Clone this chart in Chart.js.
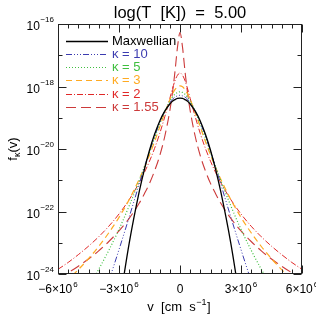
<!DOCTYPE html>
<html><head><meta charset="utf-8">
<script src="https://cdn.jsdelivr.net/npm/chart.js@4.4.1/dist/chart.umd.min.js"></script>
<style>html,body{margin:0;padding:0;background:#fff;}#wrap{width:316px;height:316px;}</style>
</head><body><div id="wrap"><canvas id="c" width="316" height="316"></canvas></div>
<script>
// velocity in units of 1e6 cm/s
const velocity = [-6,-5.5,-5,-4.5,-4,-3.5,-3,-2.5,-2,-1.75,-1.5,-1.25,-1,-0.75,-0.5,-0.375,-0.25,-0.125,0,0.125,0.25,0.375,0.5,0.75,1,1.25,1.5,1.75,2,2.5,3,3.5,4,4.5,5,5.5,6];
// log10 f(v)
const logMaxwellian = [null,null,null,null,null,null,-25.07,-23.02,-21.35,-20.65,-20.04,-19.53,-19.11,-18.79,-18.56,-18.47,-18.42,-18.38,-18.37,-18.38,-18.42,-18.47,-18.56,-18.79,-19.11,-19.53,-20.04,-20.65,-21.35,-23.02,-25.07,null,null,null,null,null,null];
const logKappa10 = [null,null,null,null,-25.17,-24.22,-23.22,-22.18,-21.11,-20.58,-20.07,-19.59,-19.16,-18.79,-18.52,-18.41,-18.34,-18.30,-18.28,-18.30,-18.34,-18.41,-18.52,-18.79,-19.16,-19.59,-20.07,-20.58,-21.11,-22.18,-23.22,-24.22,-25.17,null,null,null,null];
const logKappa5 = [null,null,null,-24.40,-23.85,-23.24,-22.57,-21.82,-21.00,-20.56,-20.11,-19.65,-19.21,-18.80,-18.47,-18.34,-18.25,-18.19,-18.17,-18.19,-18.25,-18.34,-18.47,-18.80,-19.21,-19.65,-20.11,-20.56,-21.00,-21.82,-22.57,-23.24,-23.85,-24.40,null,null,null];
const logKappa3 = [-24.48,-24.18,-23.86,-23.51,-23.12,-22.68,-22.19,-21.62,-20.96,-20.59,-20.19,-19.76,-19.30,-18.84,-18.42,-18.24,-18.10,-18.01,-17.98,-18.01,-18.10,-18.24,-18.42,-18.84,-19.30,-19.76,-20.19,-20.59,-20.96,-21.62,-22.19,-22.68,-23.12,-23.51,-23.86,-24.18,-24.48];
const logKappa2 = [-23.85,-23.63,-23.38,-23.11,-22.81,-22.47,-22.08,-21.62,-21.07,-20.75,-20.39,-19.98,-19.51,-18.97,-18.38,-18.08,-17.82,-17.64,-17.57,-17.64,-17.82,-18.08,-18.38,-18.97,-19.51,-19.98,-20.39,-20.75,-21.07,-21.62,-22.08,-22.47,-22.81,-23.11,-23.38,-23.63,-23.85];
const logKappa155 = [-24.15,-23.96,-23.75,-23.52,-23.26,-22.96,-22.62,-22.22,-21.73,-21.43,-21.10,-20.70,-20.22,-19.60,-18.77,-18.22,-17.54,-16.75,-16.27,-16.75,-17.54,-18.22,-18.77,-19.60,-20.22,-20.70,-21.10,-21.43,-21.73,-22.22,-22.62,-22.96,-23.26,-23.52,-23.75,-23.96,-24.15];

const seriesLabels = ['Maxwellian','κ = 10','κ = 5','κ = 3','κ = 2','κ = 1.55'];
const xTickValues = [-6,-3,0,3,6];
const xTickBase = ['−6×10','−3×10','0','3×10','6×10'];
const xTickExp = ['6','6','','6','6'];
const yTickValues = [-16,-18,-20,-22,-24];
const yTickExp = ['−16','−18','−20','−22','−24'];
const titleText = 'log(T  [K])  =  5.00';

const colors = ['#000000','#3b3bb0','#3fbf3f','#ffaa22','#e02828','#cc3a3a'];
const dashes = [[],[6,2,1,2,1,2,1,2],[1,2],[6,4],[6,2,1,2],[10,5]];
const widths = [1.3,1,1.2,1.2,1,1.1];
const allSeries = [logMaxwellian,logKappa10,logKappa5,logKappa3,logKappa2,logKappa155];

const datasets = allSeries.map((s,i)=>({
  label: seriesLabels[i],
  data: velocity.map((v,j)=>({x:v,y:s[j]})),
  borderColor: colors[i], borderDash: dashes[i], borderWidth: widths[i],
  pointRadius:0, fill:false, cubicInterpolationMode:'monotone', spanGaps:false, clip:0
}));

const FONT = '"Liberation Sans", Arial, sans-serif';

const overlay = {
  id:'overlay',
  afterDatasetsDraw(chart){
    const ctx = chart.ctx, a = chart.chartArea, X = chart.scales.x, Y = chart.scales.y;
    ctx.save();
    ctx.setLineDash([]);
    ctx.strokeStyle = '#222'; ctx.lineWidth = 1;
    const L = Math.round(a.left)+0.5, R = Math.round(a.right)-0.5, T = Math.round(a.top)+0.5, B = Math.round(a.bottom)-0.5;
    ctx.strokeRect(L, T, R-L, B-T);
    // x ticks
    ctx.beginPath();
    for (let v=-6; v<=6.001; v+=0.5){
      const px = Math.round(X.getPixelForValue(v))+0.5;
      const len = (Math.abs(v%3) < 1e-6) ? 8 : 4;
      ctx.moveTo(px,B); ctx.lineTo(px,B-len);
      ctx.moveTo(px,T); ctx.lineTo(px,T+len);
    }
    for (let e=-24; e<=-16; e++){
      const py = Math.round(Y.getPixelForValue(e))+0.5;
      const len = (e%2===0) ? 8 : 4;
      ctx.moveTo(L,py); ctx.lineTo(L+len,py);
      ctx.moveTo(R,py); ctx.lineTo(R-len,py);
    }
    ctx.stroke();

    ctx.fillStyle = '#000';
    // y tick labels
    yTickValues.forEach((e,i)=>{
      const py = Y.getPixelForValue(e);
      ctx.font = '8px '+FONT; ctx.textBaseline='middle'; ctx.textAlign='right';
      const ew = ctx.measureText(yTickExp[i]).width;
      ctx.fillText(yTickExp[i], 54, py-4);
      ctx.font = '12px '+FONT;
      ctx.fillText('10', 54-ew-0.5, py+3);
    });
    // x tick labels
    xTickValues.forEach((v,i)=>{
      const px = X.getPixelForValue(v);
      ctx.font = '12px '+FONT; const bw = ctx.measureText(xTickBase[i]).width;
      ctx.font = '8px '+FONT; const ew = xTickExp[i] ? ctx.measureText(xTickExp[i]).width + 1 : 0;
      const x0 = px - (bw+ew)/2;
      ctx.textAlign='left'; ctx.textBaseline='alphabetic';
      ctx.font = '12px '+FONT; ctx.fillText(xTickBase[i], x0, 293);
      if (xTickExp[i]) { ctx.font = '8px '+FONT; ctx.fillText(xTickExp[i], x0+bw+1, 287); }
    });
    // x title
    {
      ctx.font = '13px '+FONT; ctx.textBaseline='alphabetic'; ctx.textAlign='left';
      const p1 = 'v  [cm  s', p3 = ']';
      const w1 = ctx.measureText(p1).width, w3 = ctx.measureText(p3).width;
      ctx.font = '9px '+FONT; const w2 = ctx.measureText('−1').width;
      const x0 = 179 - (w1+w2+w3+1)/2;
      ctx.font = '13px '+FONT; ctx.fillText(p1, x0, 311);
      ctx.font = '9px '+FONT; ctx.fillText('−1', x0+w1+0.5, 305);
      ctx.font = '13px '+FONT; ctx.fillText(p3, x0+w1+w2+1, 311);
    }
    // y title
    {
      ctx.save(); ctx.translate(17, 149); ctx.rotate(-Math.PI/2);
      ctx.textBaseline='alphabetic'; ctx.textAlign='left';
      ctx.font = '13px '+FONT; const wf = ctx.measureText('f').width, wp = ctx.measureText('(v)').width;
      ctx.font = '9px '+FONT; const wk = ctx.measureText('κ').width;
      const x0 = -(wf+wk+wp)/2;
      ctx.font = '13px '+FONT; ctx.fillText('f', x0, 0);
      ctx.font = '9px '+FONT; ctx.fillText('κ', x0+wf, 3);
      ctx.font = '13px '+FONT; ctx.fillText('(v)', x0+wf+wk, 0);
      ctx.restore();
    }
    // title
    ctx.font = '16.5px '+FONT; ctx.textAlign='center'; ctx.textBaseline='alphabetic';
    ctx.fillText(titleText, 180, 18);
    // legend
    const rows = [40.5,53.5,66.5,80,93.5,106.5];
    chart.data.datasets.forEach((d,i)=>{
      const yy = Math.round(rows[i])+0.5;
      ctx.strokeStyle = d.borderColor; ctx.lineWidth = d.borderWidth; ctx.setLineDash(d.borderDash);
      ctx.beginPath(); ctx.moveTo(66,yy); ctx.lineTo(108,yy); ctx.stroke();
      ctx.setLineDash([]);
      ctx.fillStyle = i===0 ? '#000' : d.borderColor;
      ctx.font = '13px '+FONT; ctx.textAlign='left'; ctx.textBaseline='middle';
      ctx.fillText(d.label, 112, yy);
    });
    ctx.restore();
  }
};

new Chart(document.getElementById('c'), {
  type:'line',
  data:{ datasets },
  options:{
    responsive:false, animation:false, devicePixelRatio:1,
    layout:{ padding:{ left:58, top:24, right:14, bottom:42 } },
    plugins:{ legend:{display:false}, tooltip:{enabled:false}, title:{display:false} },
    scales:{
      x:{ type:'linear', min:-6, max:6, display:false },
      y:{ type:'linear', min:-24, max:-16, display:false }
    }
  },
  plugins:[overlay]
});
</script></body></html>
